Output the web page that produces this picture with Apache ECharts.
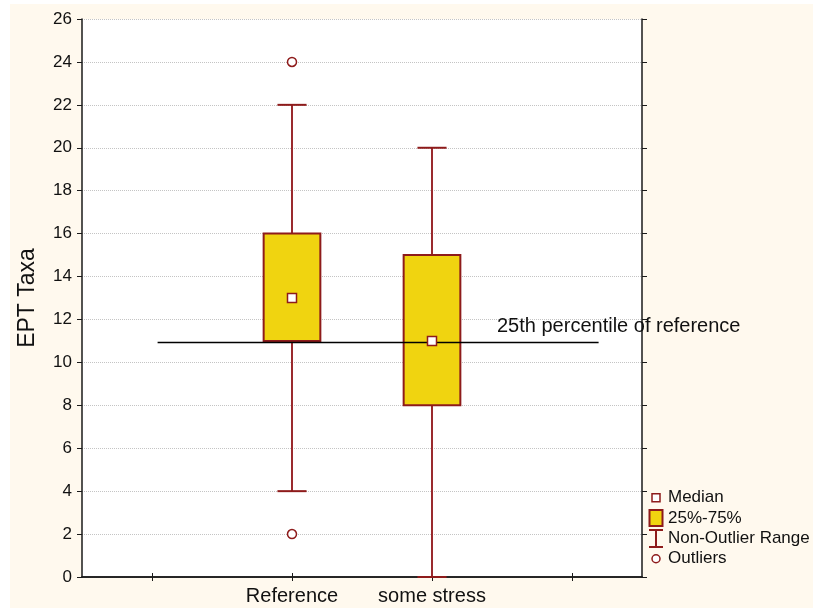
<!DOCTYPE html>
<html>
<head>
<meta charset="utf-8">
<script src="https://cdn.jsdelivr.net/npm/echarts@6/dist/echarts.min.js"></script>
<style>
  html, body { margin: 0; padding: 0; background: #ffffff; }
  #chart { width: 813px; height: 613px; }
</style>
</head>
<body>
<div id="chart"></div>
<script>
// Category slots along the x axis (outer slots are empty padding).
const categories = ['', 'Reference', 'some stress', ''];
// Box summaries per group (index into categories).
const groupIndex = [1, 2];
const whiskerLow = [4, 0];
const q1 = [11, 8];
const medians = [13, 11];
const q3 = [16, 15];
const whiskerHigh = [22, 20];
// Outlying observations.
const outlierGroup = [1, 1];
const outlierValues = [24, 2];
// Horizontal reference line (x on a 0..4 slot scale).
const refLineX = [0.54, 3.69];
const refLineY = [10.93, 10.93];
const refLabel = '25th percentile of reference';
// Y axis range.
const yMin = 0, yMax = 26, yStep = 2;

const FONT = '"Liberation Sans", Arial, sans-serif';
const RED = '#8E1B1B';
const WHISKER = '#9A2A2E';
const BOX_FILL = '#F0D410';
const CREAM = '#FFF9EE';

const whiskerData = groupIndex.map((g, i) => [g, whiskerLow[i], whiskerHigh[i], q1[i], q3[i]]);
const boxData = groupIndex.map((g, i) => [g, q1[i], q3[i]]);
const medianData = groupIndex.map((g, i) => [g, medians[i]]);
const outlierData = outlierGroup.map((g, i) => [g, outlierValues[i]]);
const refLineData = refLineX.map((x, i) => [x, refLineY[i]]);

function renderWhisker(params, api) {
  const x = api.value(0);
  const lo = api.coord([x, api.value(1)]);
  const hi = api.coord([x, api.value(2)]);
  const b1 = api.coord([x, api.value(3)]);
  const b3 = api.coord([x, api.value(4)]);
  const half = api.size([1, 0])[0] * 0.104;
  const ls = { stroke: WHISKER, lineWidth: 2 };
  const cs = { stroke: RED, lineWidth: 2 };
  return {
    type: 'group',
    children: [
      { type: 'line', shape: { x1: hi[0], y1: hi[1], x2: b3[0], y2: b3[1] }, style: ls },
      { type: 'line', shape: { x1: b1[0], y1: b1[1], x2: lo[0], y2: lo[1] }, style: ls },
      { type: 'line', shape: { x1: hi[0] - half, y1: hi[1], x2: hi[0] + half, y2: hi[1] }, style: cs },
      { type: 'line', shape: { x1: lo[0] - half, y1: lo[1], x2: lo[0] + half, y2: lo[1] }, style: cs }
    ]
  };
}

function renderBox(params, api) {
  const x = api.value(0);
  const p1 = api.coord([x, api.value(1)]);
  const p3 = api.coord([x, api.value(2)]);
  const w = api.size([1, 0])[0] * 0.405;
  return {
    type: 'rect',
    shape: { x: p1[0] - w / 2, y: p3[1], width: w, height: p1[1] - p3[1] },
    style: { fill: BOX_FILL, stroke: RED, lineWidth: 2 }
  };
}

const chart = echarts.init(document.getElementById('chart'), null, { renderer: 'canvas' });

const axisLineStyle = { color: '#1a1a1a', width: 1.5 };

chart.setOption({
  animation: false,
  backgroundColor: 'transparent',
  textStyle: { fontFamily: FONT },
  graphic: [
    {
      type: 'rect', z: -10, silent: true,
      shape: { x: 10, y: 4, width: 803, height: 604 },
      style: { fill: CREAM }
    },
    {
      type: 'text', z: 10, silent: true,
      x: 497, y: 326,
      style: {
        text: refLabel, font: '20px ' + FONT, fill: '#111',
        verticalAlign: 'middle', align: 'left'
      }
    }
  ],
  grid: {
    left: 82, right: 171, top: 19, bottom: 36,
    show: true, backgroundColor: '#ffffff', borderWidth: 0
  },
  legend: {
    orient: 'vertical',
    left: 648, top: 488, padding: 0,
    itemWidth: 14, itemHeight: 18, itemGap: 0.5,
    selectedMode: false,
    textStyle: { fontSize: 17, color: '#111', fontFamily: FONT },
    data: [
      {
        name: 'Median',
        icon: 'path://M0,0M14,18M3,5L11,5L11,13L3,13Z',
        itemStyle: { color: '#ffffff', borderColor: RED, borderWidth: 1.5 }
      },
      {
        name: '25%-75%',
        icon: 'path://M0,0M14,18M0.5,1L13.5,1L13.5,17L0.5,17Z',
        itemStyle: { color: BOX_FILL, borderColor: RED, borderWidth: 2 }
      },
      {
        name: 'Non-Outlier Range',
        icon: 'path://M0,0M14,18M0,0.5L14,0.5M7,0.5L7,17.5M0,17.5L14,17.5',
        itemStyle: { color: 'transparent', borderColor: RED, borderWidth: 2 }
      },
      {
        name: 'Outliers',
        icon: 'path://M0,0M14,18M11,9A4,4 0 1,1 3,9A4,4 0 1,1 11,9Z',
        itemStyle: { color: '#ffffff', borderColor: RED, borderWidth: 1.5 }
      }
    ]
  },
  xAxis: [
    {
      type: 'category', data: categories, position: 'bottom', boundaryGap: true,
      axisLine: { lineStyle: axisLineStyle },
      axisTick: { show: true, interval: 0, alignWithLabel: true, inside: true, length: 4, lineStyle: { color: '#1a1a1a' } },
      axisLabel: { interval: 0, fontSize: 20, color: '#111', margin: 9, fontFamily: FONT },
      splitLine: { show: false }
    },
    {
      type: 'category', data: categories, position: 'top', boundaryGap: true,
      axisLine: { lineStyle: axisLineStyle },
      axisTick: { show: true, interval: 0, alignWithLabel: true, inside: true, length: 4, lineStyle: { color: '#1a1a1a' } },
      axisLabel: { show: false, interval: 0 },
      splitLine: { show: false }
    },
    {
      type: 'value', min: 0, max: 4, show: false
    }
  ],
  yAxis: [
    {
      type: 'value', min: yMin, max: yMax, interval: yStep, position: 'left',
      name: 'EPT Taxa', nameLocation: 'middle', nameGap: 43,
      nameTextStyle: { fontSize: 23, color: '#111', fontFamily: FONT },
      axisLine: { show: true, lineStyle: axisLineStyle },
      axisTick: { show: true, length: 5, lineStyle: { color: '#1a1a1a' } },
      axisLabel: { fontSize: 17, color: '#111', margin: 10, fontFamily: FONT },
      splitLine: { show: true, lineStyle: { color: '#c4c4c4', type: 'dotted', width: 1 } }
    },
    {
      type: 'value', min: yMin, max: yMax, interval: yStep, position: 'right',
      axisLine: { show: true, lineStyle: axisLineStyle },
      axisTick: { show: true, length: 5, lineStyle: { color: '#1a1a1a' } },
      axisLabel: { show: false },
      splitLine: { show: false }
    }
  ],
  series: [
    {
      name: 'Non-Outlier Range', type: 'custom', xAxisIndex: 0, yAxisIndex: 0,
      renderItem: renderWhisker, data: whiskerData,
      encode: { x: 0, y: [1, 2, 3, 4] }, z: 2, clip: false
    },
    {
      name: '25%-75%', type: 'custom', xAxisIndex: 0, yAxisIndex: 0,
      renderItem: renderBox, data: boxData,
      encode: { x: 0, y: [1, 2] }, z: 3
    },
    {
      name: 'reference line', type: 'line', xAxisIndex: 2, yAxisIndex: 0,
      data: refLineData, symbol: 'none', silent: true,
      lineStyle: { color: '#000', width: 1.5 }, z: 4
    },
    {
      name: 'Median', type: 'scatter', xAxisIndex: 0, yAxisIndex: 0,
      data: medianData, symbol: 'rect', symbolSize: 9,
      itemStyle: { color: '#ffffff', borderColor: RED, borderWidth: 1.5, opacity: 1 }, z: 5
    },
    {
      name: 'Outliers', type: 'scatter', xAxisIndex: 0, yAxisIndex: 0,
      data: outlierData, symbol: 'circle', symbolSize: 9,
      itemStyle: { color: '#ffffff', borderColor: RED, borderWidth: 1.5, opacity: 1 }, z: 5
    }
  ]
});
</script>
</body>
</html>
